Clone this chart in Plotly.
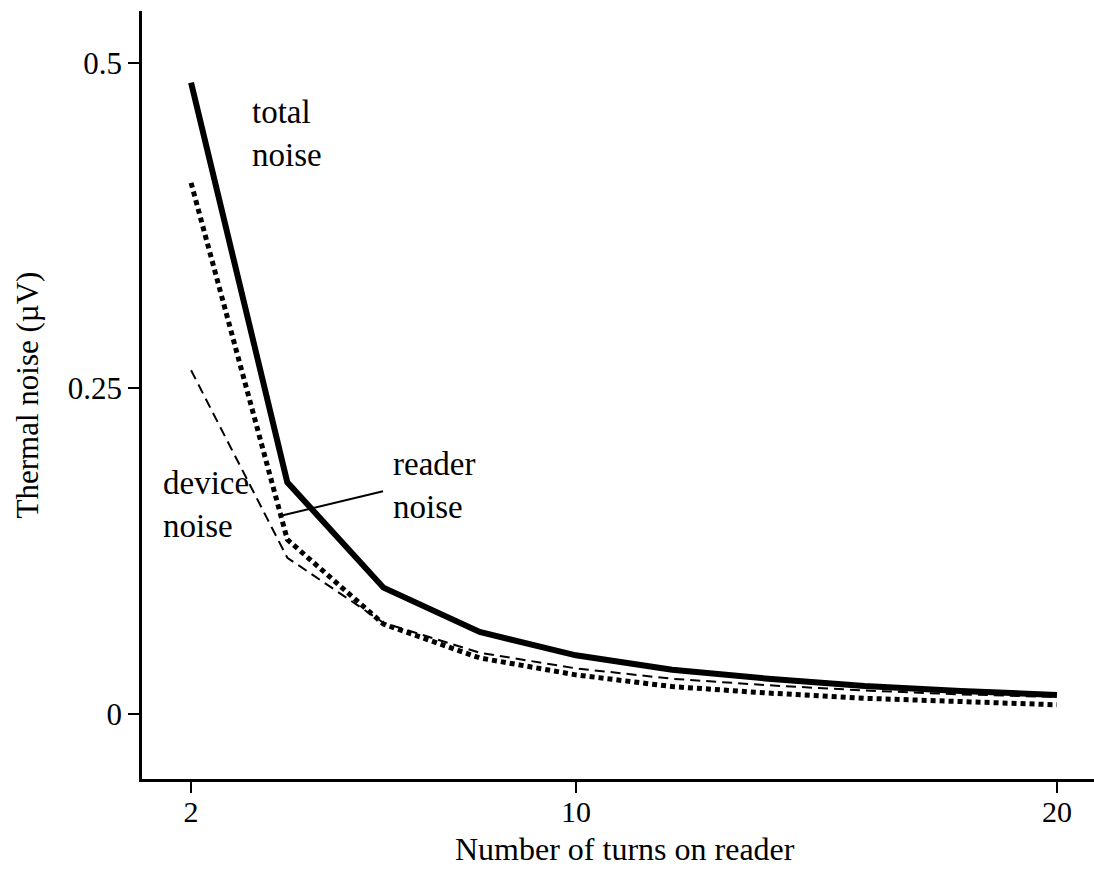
import plotly.graph_objects as go

turns = [2, 4, 6, 8, 10, 12, 14, 16, 18, 20]
total_noise = [0.485, 0.178, 0.097, 0.063, 0.045, 0.034, 0.027, 0.0215, 0.0177, 0.0146]
reader_noise = [0.408, 0.134, 0.069, 0.043, 0.030, 0.021, 0.016, 0.012, 0.0095, 0.0070]
device_noise = [0.264, 0.120, 0.070, 0.047, 0.035, 0.027, 0.022, 0.018, 0.015, 0.013]

x_ticks = [2, 10, 20]
y_ticks = [0, 0.25, 0.5]
y_tick_labels = ["0", "0.25", "0.5"]

FONT = "Liberation Serif"

fig = go.Figure()
fig.add_trace(go.Scatter(x=turns, y=device_noise, mode="lines",
                         line=dict(color="black", width=2, dash="10px,6px"),
                         name="device noise", showlegend=False))
fig.add_trace(go.Scatter(x=turns, y=reader_noise, mode="lines",
                         line=dict(color="black", width=5, dash="5px,4px"),
                         name="reader noise", showlegend=False))
fig.add_trace(go.Scatter(x=turns, y=total_noise, mode="lines",
                         line=dict(color="black", width=6),
                         name="total noise", showlegend=False))

# pointer line for "reader noise"
fig.add_shape(type="line", xref="x", yref="y", x0=3.91, y0=0.1526, x1=5.99, y1=0.171,
              line=dict(color="black", width=2))

ann_font = dict(family=FONT, size=33, color="black")
fig.add_annotation(x=3.22, y=0.478, xref="x", yref="y", text="total<br>noise",
                   showarrow=False, xanchor="left", yanchor="top", align="left", font=ann_font)
fig.add_annotation(x=6.15, y=0.207, xref="x", yref="y", text="reader<br>noise",
                   showarrow=False, xanchor="left", yanchor="top", align="left", font=ann_font)
fig.add_annotation(x=1.37, y=0.193, xref="x", yref="y", text="device<br>noise",
                   showarrow=False, xanchor="left", yanchor="top", align="left", font=ann_font)

# x-axis title as an annotation so it can sit below the tick labels
fig.add_annotation(x=0.507, y=-0.117, xref="paper", yref="paper", text="Number of turns on reader",
                   showarrow=False, xanchor="center", yanchor="bottom",
                   font=dict(family=FONT, size=32, color="black"))

fig.update_layout(
    width=1094, height=869,
    margin=dict(l=142, r=0, t=11, b=90),
    paper_bgcolor="white", plot_bgcolor="white",
    font=dict(family=FONT, size=30, color="black"),
    xaxis=dict(range=[0.98, 20.77], tickvals=x_ticks, ticktext=[str(v) for v in x_ticks],
               showgrid=False, zeroline=False, showline=True, linecolor="black", linewidth=3,
               ticks="outside", ticklen=11, tickwidth=2, tickcolor="black",
               ticklabelstandoff=-7,
               tickfont=dict(family=FONT, size=30)),
    yaxis=dict(range=[-0.05, 0.54], tickvals=y_ticks, ticktext=y_tick_labels,
               showgrid=False, zeroline=False, showline=True, linecolor="black", linewidth=2.5,
               ticks="outside", ticklen=11, tickwidth=2, tickcolor="black",
               tickfont=dict(family=FONT, size=31),
               title=dict(text="Thermal noise (µV)", font=dict(family=FONT, size=31), standoff=20)),
)

fig.write_html("out.html")
